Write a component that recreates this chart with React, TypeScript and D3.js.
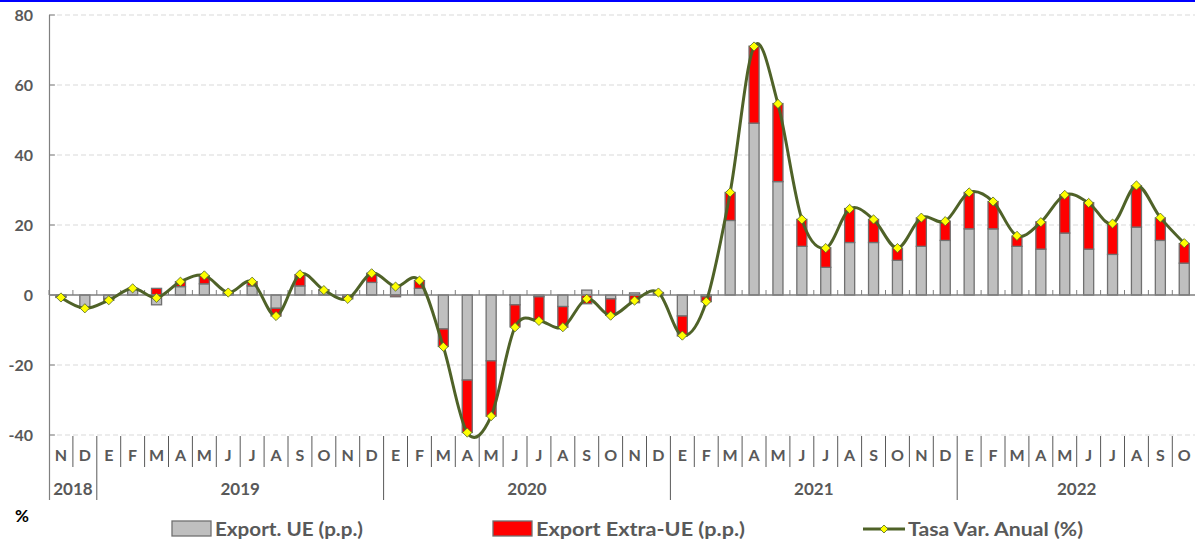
import React from "react";
import * as d3 from "d3";

// meses N-2018 .. O-2022
const months = [
  "N", "D",
  "E", "F", "M", "A", "M", "J", "J", "A", "S", "O", "N", "D",
  "E", "F", "M", "A", "M", "J", "J", "A", "S", "O", "N", "D",
  "E", "F", "M", "A", "M", "J", "J", "A", "S", "O", "N", "D",
  "E", "F", "M", "A", "M", "J", "J", "A", "S", "O",
];
const years = ["2018", "2019", "2020", "2021", "2022"];
const monthsPerYear = [2, 12, 12, 12, 10];

const exportUE = [
  -0.5, -3.5,
  -1.0, 1.6, -2.8, 2.4, 3.2, 0.5, 2.6, -3.8, 2.6, 1.4, -0.5, 3.6,
  2.8, 1.9, -9.7, -24.3, -18.8, -2.8, -0.5, -3.3, 1.4, -1.1, 0.6, 0.3,
  -6.0, -0.5, 21.3, 49.1, 32.4, 13.9, 7.9, 15.0, 15.0, 9.9, 13.9, 15.6,
  18.9, 18.9, 13.9, 13.1, 17.7, 13.1, 11.6, 19.4, 15.6, 9.1,
];
const exportExtraUE = [
  -0.2, -0.3,
  -0.5, 0.3, 1.9, 1.4, 2.3, 0.2, 1.2, -2.2, 3.2, 0.1, -0.6, 2.6,
  -0.5, 2.2, -5.0, -15.0, -15.8, -6.3, -6.9, -5.9, -2.5, -4.7, -2.2, 0.4,
  -5.7, -1.4, 8.0, 22.0, 22.3, 7.7, 5.6, 9.7, 6.6, 3.5, 8.1, 5.5,
  10.4, 7.8, 2.9, 7.8, 10.9, 13.3, 8.7, 11.8, 6.4, 5.6,
];
const tasaAnual = [
  -0.7, -3.8,
  -1.5, 1.9, -0.8, 3.8, 5.6, 0.7, 3.8, -6.0, 5.9, 1.4, -1.1, 6.2,
  2.4, 4.1, -14.8, -39.3, -34.6, -9.2, -7.4, -9.2, -1.1, -5.9, -1.6, 0.7,
  -11.6, -1.9, 29.3, 71.0, 54.6, 21.6, 13.4, 24.6, 21.6, 13.4, 22.1, 21.1,
  29.3, 26.7, 16.9, 20.8, 28.6, 26.3, 20.4, 31.3, 22.1, 14.8,
];
const yTicks = [80, 60, 40, 20, 0, -20, -40];

const W = 1195;
const H = 542;
const FONT = "Lato, 'Open Sans', sans-serif";
const TXT = "#595959";
const GREY = "#BFBFBF";
const RED = "#FF0000";
const OLIVE = "#4F6228";
const OUTLINE = "#707070";

const left = 49;
const step = 23.9;

const App = () => {
  const idx = months.map((_, i) => i);
  const x = d3.scaleBand<number>()
    .domain(idx)
    .range([left, left + step * months.length])
    .paddingInner(0.58)
    .paddingOuter(0.29);
  const y = d3.scaleLinear().domain([-40, 80]).range([435, 15]);

  const rows = idx.map((i) => ({ i, ue: exportUE[i], extra: exportExtraUE[i] }));
  const series = d3.stack<any>()
    .keys(["ue", "extra"])
    .offset(d3.stackOffsetDiverging)(rows);
  const colors = [GREY, RED];

  const cx = (i: number) => (x(i) as number) + x.bandwidth() / 2;
  const line = d3.line<number>()
    .x((_, i) => cx(i))
    .y((d) => y(d))
    .curve(d3.curveCardinal.tension(0));

  const boundaries = d3.range(months.length + 1).map((k) => left + k * step);
  let acc = 0;
  const yearStarts = monthsPerYear.map((n) => {
    const s = acc;
    acc += n;
    return s;
  });

  const diamond = (px: number, py: number, r = 4.6) =>
    `M${px},${py - r}L${px + r},${py}L${px},${py + r}L${px - r},${py}Z`;

  return (
    <svg
      width={W}
      height={H}
      style={{ position: "absolute", left: 0, top: 0, display: "block", background: "#fff" }}
    >
      <rect x={0} y={0} width={W} height={2} fill="#0000FF" />

      {/* rejilla */}
      {yTicks.filter((t) => t !== 0).map((t) => (
        <line key={t} x1={left} x2={W} y1={y(t)} y2={y(t)}
          stroke="#D9D9D9" strokeWidth={1} strokeDasharray="5,3" />
      ))}
      {yTicks.map((t) => (
        <g key={"t" + t}>
          <line x1={left} x2={left + 6} y1={y(t)} y2={y(t)} stroke="#808080" strokeWidth={1} />
          <text x={33} y={y(t)} dy="0.35em" textAnchor="end" fontFamily={FONT}
            fontWeight={700} fontSize={16} fill={TXT}>{t}</text>
        </g>
      ))}

      {/* barras */}
      {series.map((s, si) => (
        <g key={si}>
          {s.map((d, i) => {
            const y0 = y(d[0]);
            const y1 = y(d[1]);
            const h = Math.abs(y0 - y1);
            if (h < 0.01) return null;
            return (
              <rect key={i} x={x(i)} width={x.bandwidth()} y={Math.min(y0, y1)} height={h}
                fill={colors[si]} stroke={OUTLINE} strokeWidth={1.3} />
            );
          })}
        </g>
      ))}

      {/* eje cero */}
      <line x1={left} x2={W} y1={y(0)} y2={y(0)} stroke="#7F7F7F" strokeWidth={1.6} />
      {boundaries.map((bx, k) => (
        <line key={k} x1={bx} x2={bx} y1={y(0)} y2={y(0) - 5} stroke="#7F7F7F" strokeWidth={1} />
      ))}
      <line x1={left + 0.5} x2={left + 0.5} y1={15} y2={500} stroke="#808080" strokeWidth={1.2} />

      {/* serie tasa */}
      <path d={line(tasaAnual) || ""} fill="none" stroke={OLIVE} strokeWidth={3} />
      {tasaAnual.map((v, i) => (
        <path key={i} d={diamond(cx(i), y(v))} fill="#FFFF00" stroke={OLIVE} strokeWidth={0.8} />
      ))}

      {/* tabla de categorias */}
      {boundaries.slice(1).map((bx, k) => {
        const isYear = yearStarts.includes(k + 1) || k + 1 === months.length;
        return (
          <line key={"s" + k} x1={bx} x2={bx} y1={436} y2={isYear && k + 1 !== months.length ? 500 : 467}
            stroke="#595959" strokeWidth={1} />
        );
      })}
      {months.map((m, i) => (
        <text key={"m" + i} x={cx(i)} y={455} dy="0.35em" textAnchor="middle" fontFamily={FONT}
          fontWeight={700} fontSize={16} fill={TXT}>{m}</text>
      ))}
      {years.map((yr, k) => (
        <text key={yr} x={left + (yearStarts[k] + monthsPerYear[k] / 2) * step} y={489} dy="0.35em"
          textAnchor="middle" fontFamily={FONT} fontWeight={700} fontSize={17} fill={TXT}>{yr}</text>
      ))}

      <text x={15} y={516} dy="0.35em" fontFamily={FONT} fontWeight={700} fontSize={17} fill="#000">%</text>

      {/* leyenda */}
      <rect x={172} y={521} width={39} height={15} fill={GREY} stroke={OUTLINE} strokeWidth={1.3} />
      <text x={215} y={529} dy="0.35em" fontFamily={FONT} fontWeight={700} fontSize={19} fill={TXT}
        textLength={148} lengthAdjust="spacingAndGlyphs">Export. UE (p.p.)</text>
      <rect x={493} y={521} width={39} height={15} fill={RED} stroke={OUTLINE} strokeWidth={1.3} />
      <text x={536} y={529} dy="0.35em" fontFamily={FONT} fontWeight={700} fontSize={19} fill={TXT}
        textLength={209} lengthAdjust="spacingAndGlyphs">Export Extra-UE (p.p.)</text>
      <line x1={863} x2={905} y1={529} y2={529} stroke={OLIVE} strokeWidth={3} />
      <path d={diamond(884, 529, 4)} fill="#FFFF00" stroke={OLIVE} strokeWidth={0.8} />
      <text x={908} y={529} dy="0.35em" fontFamily={FONT} fontWeight={700} fontSize={19} fill={TXT}
        textLength={175} lengthAdjust="spacingAndGlyphs">Tasa Var. Anual (%)</text>
    </svg>
  );
};

export default App;
